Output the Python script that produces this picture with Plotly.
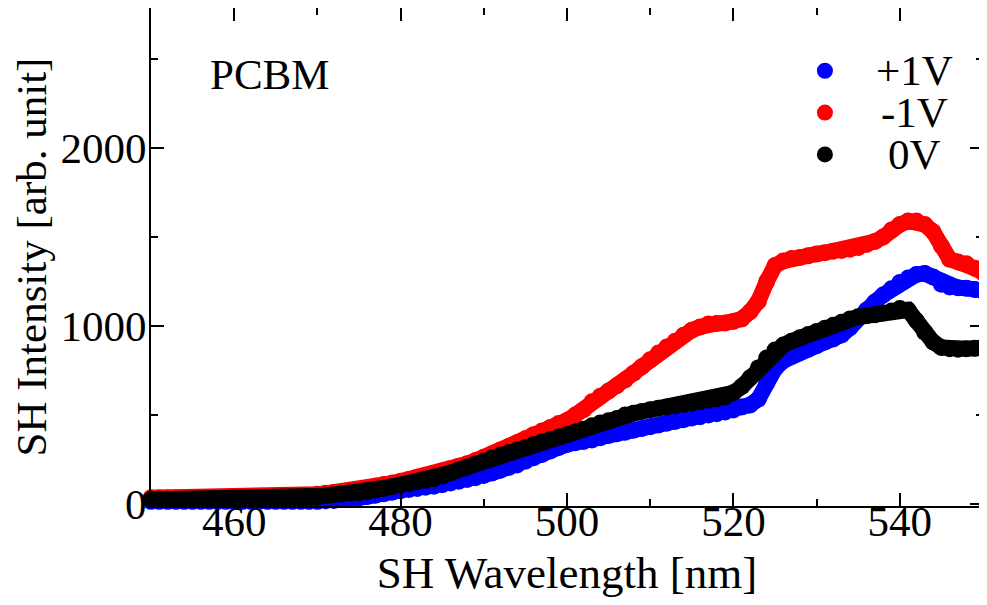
import plotly.graph_objects as go

# wavelength grid [nm], 1 nm steps
wavelength = list(range(450, 551))

# +1V (blue)
plus1v = [15, 15, 15, 15, 15, 15, 15, 15, 15, 15,
          15, 15, 15, 15, 15, 15, 15, 15, 15, 15,
          15, 18, 20, 25, 30, 35, 42, 50, 58, 66,
          75, 82, 88, 94, 100, 108, 118, 128, 138, 148,
          160, 175, 190, 205, 220, 240, 260, 278, 298, 318,
          335, 345, 352, 360, 372, 385, 395, 404, 414, 424,
          434, 444, 454, 464, 474, 483, 491, 500, 508, 517,
          528, 545, 556, 590, 680, 760, 805, 832, 852, 870,
          890, 910, 927, 950, 990, 1045, 1090, 1135, 1175, 1210,
          1245, 1270, 1290, 1295, 1275, 1235, 1220, 1215, 1212, 1205,
          1200]

# -1V (red)
minus1v = [35, 35, 35, 35, 35, 35, 35, 35, 35, 35,
           35, 35, 35, 35, 35, 35, 38, 40, 45, 50,
           55, 60, 65, 70, 75, 82, 90, 100, 110, 118,
           128, 138, 150, 160, 172, 185, 198, 212, 226, 244,
           263, 283, 303, 323, 345, 367, 390, 410, 430, 452,
           470, 500, 530, 575, 605, 635, 665, 697, 735, 772,
           810, 848, 882, 915, 948, 977, 995, 1011, 1015, 1017,
           1025, 1040, 1080, 1140, 1250, 1340, 1365, 1380, 1385, 1395,
           1405, 1412, 1420, 1425, 1432, 1442, 1458, 1475, 1500, 1540,
           1570, 1590, 1590, 1570, 1530, 1450, 1375, 1360, 1350, 1325,
           1300]

# 0V (black)
zero_v = [25, 25, 25, 25, 25, 25, 25, 25, 25, 25,
          25, 25, 25, 25, 25, 25, 26, 27, 30, 35,
          40, 47, 52, 56, 60, 64, 70, 78, 88, 98,
          108, 116, 125, 133, 142, 158, 175, 192, 208, 225,
          242, 260, 275, 290, 303, 318, 335, 348, 362, 376,
          390, 405, 420, 440, 455, 468, 480, 500, 510, 520,
          530, 538, 545, 552, 560, 567, 575, 583, 592, 602,
          625, 660, 710, 765, 820, 865, 893, 915, 935, 952,
          970, 988, 1005, 1022, 1040, 1052, 1058, 1064, 1073, 1085,
          1098, 1090, 1030, 965, 910, 880, 872, 870, 872, 875,
          880]

series = [("+1V", plus1v, "#0000ff"),
          ("-1V", minus1v, "#ff0000"),
          ("0V", zero_v, "#000000")]

FONT = "Liberation Serif"
FS = 43

fig = go.Figure()
for name, vals, col in series:
    # thick band: a wide line plus dense dots, like the original dot plot
    fig.add_trace(go.Scatter(x=wavelength, y=vals, mode="lines+markers", name=name,
                             line=dict(color=col, width=16),
                             marker=dict(color=col, size=17, line=dict(width=0)),
                             cliponaxis=False, showlegend=False))

axis_common = dict(showline=True, linecolor="black", linewidth=2, mirror="ticks",
                   ticks="inside", ticklen=13, tickwidth=2, tickcolor="black",
                   showgrid=False, zeroline=False, automargin=False,
                   tickfont=dict(family=FONT, size=FS, color="black"))

fig.update_xaxes(range=[450, 550], tickvals=[460, 480, 500, 520, 540],
                 ticklabelstandoff=-24,
                 minor=dict(ticks="inside", ticklen=7, tickwidth=2, tickcolor="black",
                            tick0=450, dtick=10),
                 title=dict(text="SH Wavelength [nm]", standoff=13,
                            font=dict(family=FONT, size=45, color="black")),
                 **axis_common)
fig.update_yaxes(range=[-11, 2787], tickvals=[0, 1000, 2000],
                 ticklabelstandoff=-6,
                 minor=dict(ticks="inside", ticklen=7, tickwidth=2, tickcolor="black",
                            tick0=0, dtick=500),
                 title=dict(text="SH Intensity [arb. unit]", standoff=3,
                            font=dict(family=FONT, size=FS, color="black")),
                 **axis_common)

# hand-made legend in the upper right
legend_y = [0.874, 0.790, 0.706]
for (name, vals, col), ly in zip(series, legend_y):
    fig.add_shape(type="circle", xref="paper", yref="paper",
                  xsizemode="pixel", ysizemode="pixel",
                  xanchor=0.81, yanchor=ly, x0=-8, x1=8, y0=-8, y1=8,
                  fillcolor=col, line=dict(width=0))
    fig.add_annotation(x=0.918, y=ly, xref="paper", yref="paper", text=name,
                       showarrow=False, xanchor="center", yanchor="middle",
                       font=dict(family=FONT, size=FS, color="black"))

fig.add_annotation(x=0.069, y=0.866, xref="paper", yref="paper", text="PCBM",
                   showarrow=False, xanchor="left", yanchor="middle",
                   font=dict(family=FONT, size=FS, color="black"))

# the page body adds an 8 px offset, so the figure is a bit smaller than the window
fig.update_layout(width=979, height=597, plot_bgcolor="white", paper_bgcolor="white",
                  margin=dict(l=143, r=4, t=0, b=99),
                  font=dict(family=FONT, size=FS, color="black"))

fig.write_html("out.html")
